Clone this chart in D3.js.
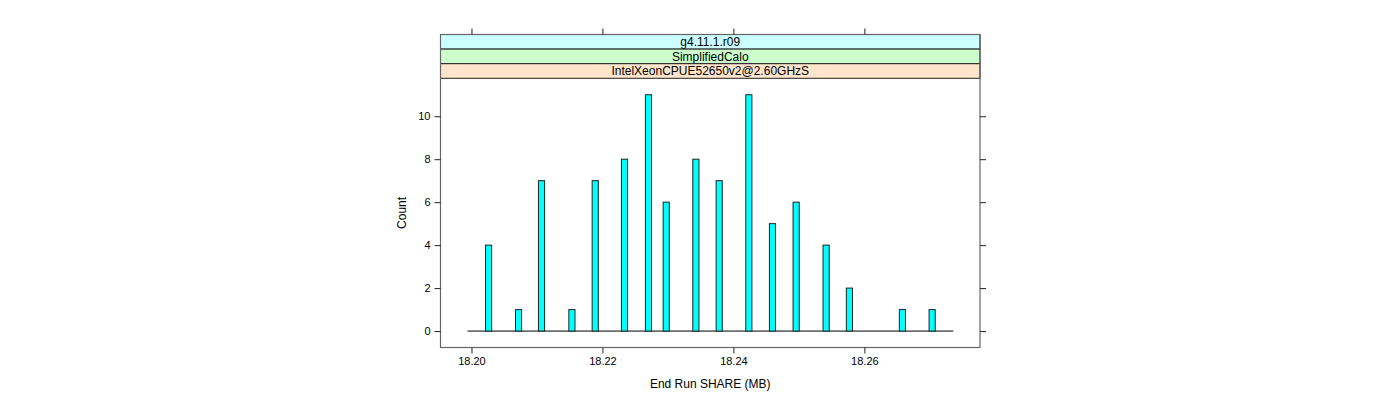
<!DOCTYPE html>
<html>
<head>
<meta charset="utf-8">
<script src="https://cdn.jsdelivr.net/npm/d3@7"></script>
<style>
  html, body { margin: 0; padding: 0; background: #fff; }
  svg { display: block; font-family: "Liberation Sans", Arial, Helvetica, sans-serif; }
</style>
</head>
<body>
<svg id="chart" width="1400" height="400"></svg>
<script>
// ---- data ----
const binStarts = [18.20214, 18.20672, 18.21023, 18.21487, 18.21843, 18.22290, 18.22656, 18.22927,
                   18.23380, 18.23736, 18.24189, 18.24550, 18.24911, 18.25369, 18.25725, 18.26534, 18.26988];
const counts    = [4, 1, 7, 1, 7, 8, 11, 6, 8, 7, 11, 5, 6, 4, 2, 1, 1];
const binWidth  = 0.00094;
const histRange = [18.19939, 18.27359];
const xTicks    = [18.20, 18.22, 18.24, 18.26];
const xTickLabels = ["18.20", "18.22", "18.24", "18.26"];
const yTicks    = [0, 2, 4, 6, 8, 10];
const stripLabels = ["g4.11.1.r09", "SimplifiedCalo", "IntelXeonCPUE52650v2@2.60GHzS"];
const stripColors = ["#ccffff", "#ccffcc", "#ffe5cc"];
const xTitle = "End Run SHARE (MB)";
const yTitle = "Count";

// ---- layout ----
const L = 440.5, R = 980, T = 34.5, stripH = 14.6;
const plotTop = T + stripH * stripLabels.length, B = 347.5;

const svg = d3.select("#chart");

const x = d3.scaleLinear().domain([18.19527, 18.27766]).range([L, R]);
const y = d3.scaleLinear().domain([-0.765, 11.765]).range([B, plotTop]);

// strips
stripLabels.forEach((lab, i) => {
  const sy = T + i * stripH;
  svg.append("rect").attr("x", L).attr("y", sy).attr("width", R - L).attr("height", stripH)
    .attr("fill", stripColors[i]).attr("stroke", "#222").attr("stroke-width", 1);
  svg.append("text").attr("x", (L + R) / 2).attr("y", sy + stripH / 2 + 4.2)
    .attr("text-anchor", "middle").attr("font-size", 12).attr("fill", "#000").text(lab);
});

// panel box
svg.append("rect").attr("x", L).attr("y", T).attr("width", R - L).attr("height", B - T)
  .attr("fill", "none").attr("stroke", "#666").attr("stroke-width", 1.2);

// baseline
svg.append("line")
  .attr("x1", x(histRange[0])).attr("x2", x(histRange[1]))
  .attr("y1", y(0)).attr("y2", y(0))
  .attr("stroke", "#000").attr("stroke-width", 1);

// bars
svg.append("g").selectAll("rect").data(binStarts).join("rect")
  .attr("x", d => x(d))
  .attr("width", d => x(d + binWidth) - x(d))
  .attr("y", (d, i) => y(counts[i]))
  .attr("height", (d, i) => y(0) - y(counts[i]))
  .attr("fill", "#00ffff").attr("stroke", "#222").attr("stroke-width", 1);

// axes
const tickStyle = g => {
  g.select(".domain").remove();
  g.selectAll(".tick line").attr("stroke", "#222");
  g.selectAll(".tick text").attr("fill", "#000").attr("font-size", 11)
    .attr("font-family", "'Liberation Sans', Arial, sans-serif");
};
svg.append("g").attr("transform", `translate(0,${B})`)
  .call(d3.axisBottom(x).tickValues(xTicks).tickFormat((d, i) => xTickLabels[i]).tickSize(6).tickPadding(4))
  .call(tickStyle);
svg.append("g").attr("transform", `translate(0,${T})`)
  .call(d3.axisTop(x).tickValues(xTicks).tickFormat("").tickSize(6))
  .call(tickStyle);
svg.append("g").attr("transform", `translate(${L},0)`)
  .call(d3.axisLeft(y).tickValues(yTicks).tickFormat(d3.format("d")).tickSize(6).tickPadding(4))
  .call(tickStyle);
svg.append("g").attr("transform", `translate(${R},0)`)
  .call(d3.axisRight(y).tickValues(yTicks).tickFormat("").tickSize(6))
  .call(tickStyle);

// titles
svg.append("text").attr("x", (L + R) / 2).attr("y", 388)
  .attr("text-anchor", "middle").attr("font-size", 12).attr("fill", "#000").text(xTitle);
svg.append("text").attr("transform", `translate(406,${(plotTop + B) / 2}) rotate(-90)`)
  .attr("text-anchor", "middle").attr("font-size", 12).attr("fill", "#000").text(yTitle);
</script>
</body>
</html>
